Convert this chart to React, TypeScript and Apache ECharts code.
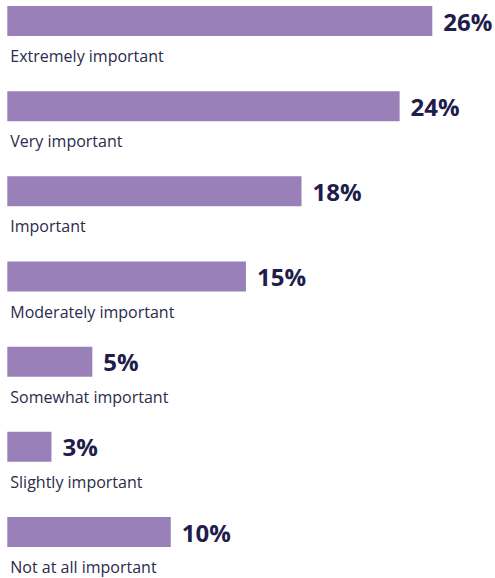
import React, { useEffect, useRef } from "react";
import * as echarts from "echarts";

const categories = [
  "Extremely important",
  "Very important",
  "Important",
  "Moderately important",
  "Somewhat important",
  "Slightly important",
  "Not at all important",
];
// Bar lengths (labels show rounded percentages)
const values = [26, 24, 18, 14.6, 5.2, 2.7, 10];

export default function App() {
  const ref = useRef<HTMLDivElement>(null);
  useEffect(() => {
    document.body.style.margin = "0";
    const chart = echarts.init(ref.current!, null, { renderer: "svg" });
    chart.setOption({
      animation: false,
      grid: { left: 7.3, top: 21, width: 425, height: 511, containLabel: false },
      xAxis: { type: "value", min: 0, max: 26, show: false },
      yAxis: {
        type: "category",
        data: categories,
        inverse: true,
        boundaryGap: false,
        axisLine: { show: false },
        axisTick: { show: false },
        splitLine: { show: false },
        axisLabel: {
          inside: true,
          margin: 3,
          verticalAlign: "top",
          lineHeight: 16,
          padding: [27, 0, 0, 0],
          color: "#2b2b4b",
          fontSize: 16,
          fontFamily: "Open Sans",
        },
      },
      series: [
        {
          type: "bar",
          data: values,
          barWidth: 30,
          clip: false,
          itemStyle: { color: "#9a80b8" },
          label: {
            show: true,
            position: "right",
            distance: 11,
            formatter: (p: any) => Math.round(p.value) + "%",
            color: "#1e1d4c",
            fontSize: 24,
            fontWeight: "bold",
            fontFamily: "Open Sans",
          },
        },
      ],
    });
    return () => chart.dispose();
  }, []);
  return <div ref={ref} style={{ width: 495, height: 578 }} />;
}
